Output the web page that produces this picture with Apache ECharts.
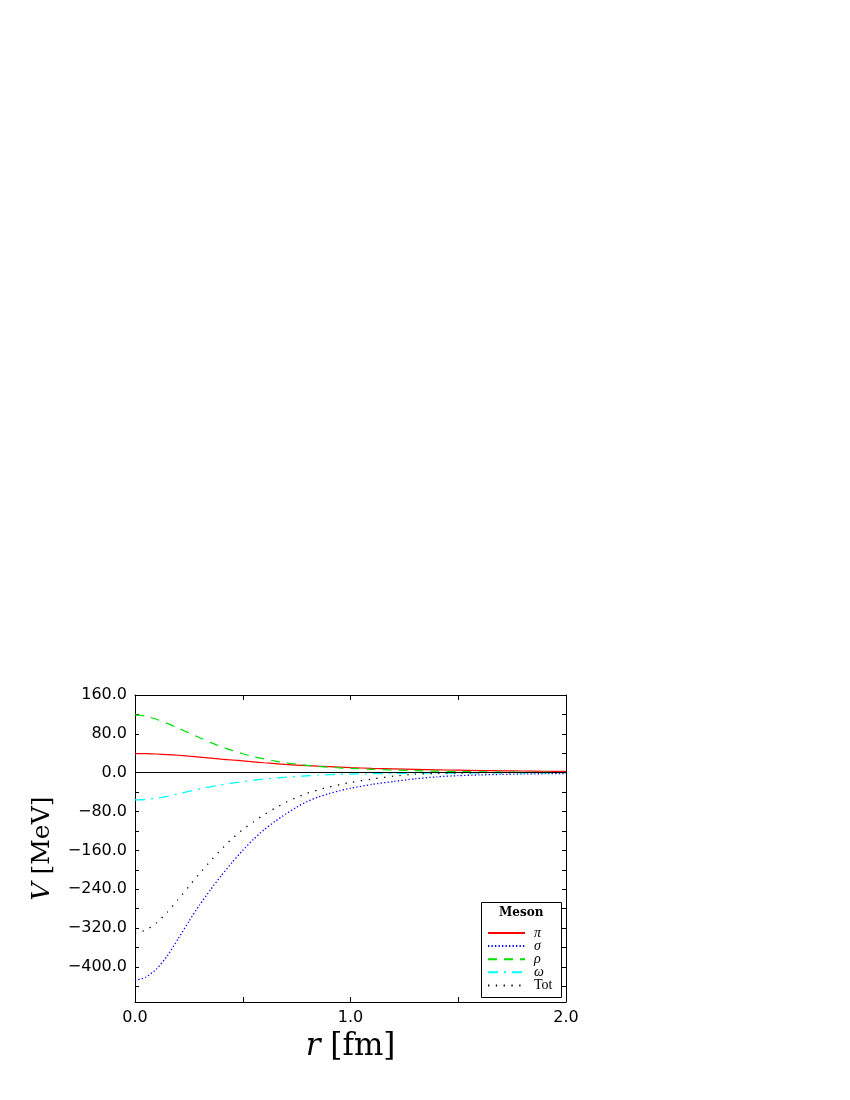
<!DOCTYPE html>
<html>
<head>
<meta charset="utf-8">
<script src="https://cdn.jsdelivr.net/npm/echarts@6/dist/echarts.min.js"></script>
<style>
  body { margin: 0; background: #fff; }
  #chart { width: 850px; height: 1100px; }
</style>
</head>
<body>
<div id="chart"></div>
<script>
// r in fm, potentials in MeV
var r = [0, 0.05, 0.1, 0.15, 0.2, 0.25, 0.3, 0.35, 0.4, 0.45, 0.5, 0.55, 0.6, 0.65, 0.7, 0.75,
         0.8, 0.85, 0.9, 0.95, 1.0, 1.1, 1.2, 1.3, 1.4, 1.5, 1.6, 1.7, 1.8, 1.9, 2.0];

var piV = [39.5, 39.2, 38.5, 37.3, 36, 34, 32, 30, 28, 26.2, 24.5, 22.5, 20.5, 18.7, 17, 15.7,
           14.5, 13.4, 12.5, 11.5, 10.5, 9, 8, 7, 6, 5.2, 4.5, 4, 3.5, 3, 2.7];
var sigmaV = [-428, -421, -404, -377, -342, -306, -272, -241, -212, -185, -160, -137, -117, -100, -85, -71,
              -59, -50, -43, -37, -32, -24, -18, -12.5, -8.5, -6, -4.5, -3.5, -2.5, -2, -1.5];
var rhoV = [119, 116.5, 110, 101.5, 92, 82, 72, 62.5, 53.5, 46, 39, 33, 28.5, 24, 20.5, 17.5,
            15, 13, 11.5, 10, 9, 7, 5.5, 4.2, 3.2, 2.4, 1.8, 1.4, 1.0, 0.7, 0.5];
var omegaV = [-56, -55, -52.5, -48.5, -43.5, -38.5, -33.5, -29, -25, -21.5, -18.5, -15.5, -13, -11, -9.3, -7.6,
              -6.2, -5, -4, -3.3, -2.8, -2, -1.4, -1, -0.7, -0.5, -0.35, -0.25, -0.2, -0.15, -0.1];
var totV = [-330, -324, -309, -287, -261, -234, -207, -182, -158, -136, -117, -101, -86, -73, -61, -51,
            -42, -35.5, -29.5, -24.5, -20, -13, -7, -3, -1.5, -0.5, 0, 0.3, 0.4, 0.4, 0.4];

var yLabels = [160, 80, 0, -80, -160, -240, -320, -400];
var yTicks = [160, 120, 80, 40, 0, -40, -80, -120, -160, -200, -240, -280, -320, -360, -400, -440];
var names = ['π', 'σ', 'ρ', 'ω', 'Tot'];

function pairs(ys) {
    return r.map(function (x, i) { return [x, ys[i]]; });
}

function fmt(v) {
    return (v < 0 ? '\u2212' : '') + Math.abs(v).toFixed(1);
}

var tickFont = { color: '#000', fontFamily: 'DejaVu Sans', fontSize: 16 };
var lineBlack = { onZero: false, lineStyle: { color: '#000', width: 1 } };

var chart = echarts.init(document.getElementById('chart'));

var option = {
    animation: false,
    backgroundColor: '#fff',
    grid: { left: 135, right: 284, top: 695, bottom: 98 },
    xAxis: [{
        type: 'value', min: 0, max: 2, interval: 0.5, position: 'bottom',
        axisLine: lineBlack,
        axisTick: { inside: true, length: 5, lineStyle: { color: '#000' } },
        axisLabel: Object.assign({ margin: 8, formatter: function (v) { return v % 1 === 0 ? v.toFixed(1) : ''; } }, tickFont),
        splitLine: { show: false },
        name: '{i|r} [fm]', nameLocation: 'middle', nameGap: 29,
        nameTextStyle: { fontFamily: 'DejaVu Serif', fontSize: 31, color: '#000',
            rich: { i: { fontFamily: 'DejaVu Serif', fontStyle: 'italic', fontSize: 31, color: '#000' } } }
    }, {
        type: 'value', min: 0, max: 2, interval: 0.5, position: 'top',
        axisLine: lineBlack,
        axisTick: { inside: true, length: 5, lineStyle: { color: '#000' } },
        axisLabel: { show: false },
        splitLine: { show: false }
    }],
    yAxis: [{
        type: 'value', min: -472, max: 160, position: 'left',
        axisLine: lineBlack,
        axisTick: { inside: true, length: 4, customValues: yTicks, lineStyle: { color: '#000' } },
        axisLabel: Object.assign({ margin: 8, customValues: yLabels, formatter: fmt }, tickFont),
        splitLine: { show: false },
        name: '{i|V} [MeV]', nameLocation: 'middle', nameGap: 80,
        nameTextStyle: { fontFamily: 'DejaVu Serif', fontSize: 25, color: '#000',
            rich: { i: { fontFamily: 'DejaVu Serif', fontStyle: 'italic', fontSize: 25, color: '#000' } } }
    }, {
        type: 'value', min: -472, max: 160, position: 'right',
        axisLine: lineBlack,
        axisTick: { inside: true, length: 4, customValues: yTicks, lineStyle: { color: '#000' } },
        axisLabel: { show: false },
        splitLine: { show: false }
    }],
    legend: {
        orient: 'vertical', left: 487, top: 926, padding: 0,
        itemWidth: 37, itemHeight: 10, itemGap: -0.9,
        data: names,
        itemStyle: { opacity: 0 },
        formatter: function (n) { return n === 'Tot' ? n : '{g|' + n + '}'; },
        textStyle: { fontFamily: 'Liberation Serif', fontSize: 14, color: '#000', padding: [0, 0, 0, 4],
            rich: { g: { fontFamily: 'Liberation Serif', fontStyle: 'italic', fontSize: 14, color: '#000' } } },
        z: 20
    },
    graphic: [{
        type: 'rect', left: 481, top: 902, z: 15,
        shape: { width: 80, height: 95 },
        style: { fill: '#fff', stroke: '#000', lineWidth: 1 }
    }, {
        type: 'text', left: 499, top: 907, z: 20,
        style: { text: 'Meson', fill: '#000', font: 'bold 12px "DejaVu Serif"' }
    }],
    series: [{
        name: 'π', type: 'line', data: pairs(piV), symbol: 'none', smooth: 0.2,
        lineStyle: { color: '#ff0000', width: 1.2, type: 'solid' }, itemStyle: { color: '#ff0000' },
        markLine: {
            silent: true, symbol: ['none', 'none'], label: { show: false },
            lineStyle: { color: '#000', width: 1.2, type: 'solid' },
            data: [{ yAxis: 0 }]
        }
    }, {
        name: 'σ', type: 'line', data: pairs(sigmaV), symbol: 'none', smooth: 0.2,
        lineStyle: { color: '#0000ff', width: 1.3, type: [1.3, 2.2] }, itemStyle: { color: '#0000ff' }
    }, {
        name: 'ρ', type: 'line', data: pairs(rhoV), symbol: 'none', smooth: 0.2,
        lineStyle: { color: '#00e000', width: 1.2, type: [9, 7] }, itemStyle: { color: '#00e000' }
    }, {
        name: 'ω', type: 'line', data: pairs(omegaV), symbol: 'none', smooth: 0.2,
        lineStyle: { color: '#00ffff', width: 1.3, type: [10, 6, 2, 6] }, itemStyle: { color: '#00ffff' }
    }, {
        name: 'Tot', type: 'line', data: pairs(totV), symbol: 'none', smooth: 0.2,
        lineStyle: { color: '#000', width: 1.3, type: [1.3, 6.5] }, itemStyle: { color: '#000' }
    }]
};

chart.setOption(option);
</script>
</body>
</html>
